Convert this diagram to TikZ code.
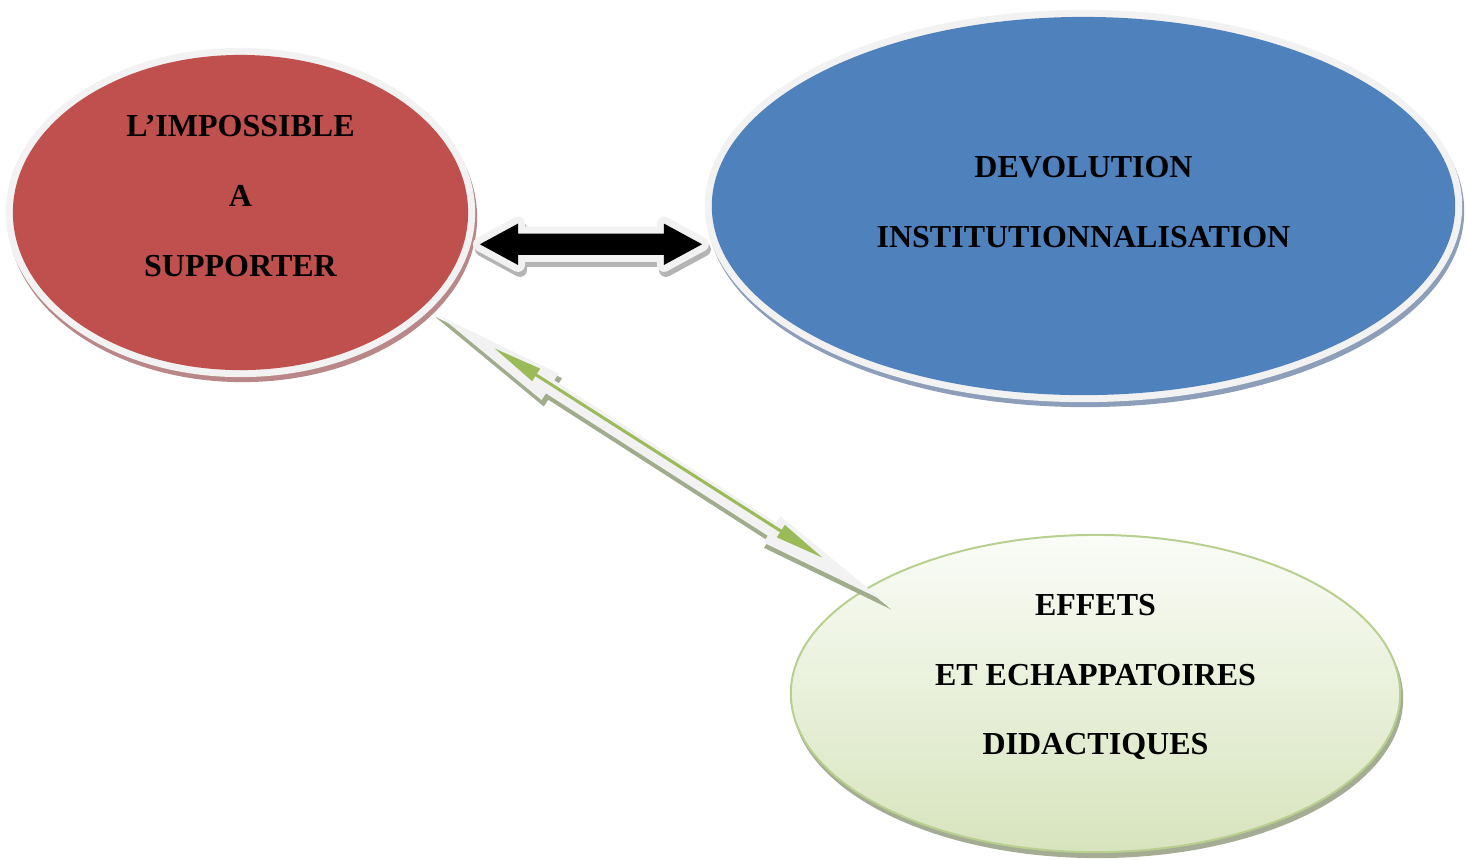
\documentclass[tikz,border=0pt]{standalone}
\usepackage{fontspec}
\setmainfont{Liberation Serif}
\usepackage{xcolor}
\usepackage{tikz}
\usetikzlibrary{shapes.geometric, shapes.arrows, arrows.meta, calc}

\definecolor{redfill}{RGB}{192,80,77}
\definecolor{bluefill}{RGB}{79,129,189}
\definecolor{greentop}{RGB}{250,252,247}
\definecolor{greenbot}{RGB}{215,228,189}
\definecolor{greenedge}{RGB}{184,208,143}
\definecolor{greenline}{RGB}{155,187,89}
\definecolor{ringgrey}{RGB}{242,242,242}
\definecolor{redshade}{RGB}{185,135,135}
\definecolor{blueshade}{RGB}{140,158,185}
\definecolor{greenshade}{RGB}{165,172,148}
\definecolor{greyshade}{RGB}{180,180,180}
\definecolor{oliveshade}{RGB}{160,172,140}

\begin{document}
\begin{tikzpicture}%
        [x={(0.01cm,0cm)},
        y={(0cm,-0.01cm)},
        halo/.style={preaction={draw=ringgrey, line width=0.14cm, line join=round}},
        rimshadow/.style={preaction={fill=#1, draw=#1, line width=0.14cm, line join=round,
            transform canvas={shift={(0.02cm,-0.05cm)}}}},
        flatshadow/.style={preaction={fill=#1, draw=#1, line width=0.02cm,
            transform canvas={shift={(0.02cm,-0.05cm)}}}},
        bubble/.style={ellipse, inner sep=0pt},
        bubbletext/.style={align=center, inner sep=0pt,
            font=\fontsize{9.1}{19.9}\selectfont\bfseries}]
    \useasboundingbox (0,0) rectangle (1466,859);
    %% Drawing the three bubbles
    \node[bubble, rimshadow=redshade, halo, fill=redfill,
        minimum width=4.55cm, minimum height=3.15cm] (red) at (240.5,212.5) {};
    \node[bubble, rimshadow=blueshade, halo, fill=bluefill,
        minimum width=7.43cm, minimum height=3.78cm] (blue) at (1083.5,206) {};
    \node[bubble, flatshadow=greenshade, draw=greenedge, line width=0.02cm,
        top color=greentop, bottom color=greenbot,
        minimum width=6.09cm, minimum height=3.17cm] (green) at (1095.5,693.5) {};
    %%
    %% Texts
    \node[bubbletext] (redtext) at ([yshift=0.165cm]red.center) {L’IMPOSSIBLE\\A\\SUPPORTER};
    \node[bubbletext] (bluetext) at ([yshift=0.04cm]blue.center) {DEVOLUTION\\INSTITUTIONNALISATION};
    \node[bubbletext] (greentext) at ([yshift=0.165cm]green.center) {EFFETS\\ET ECHAPPATOIRES\\DIDACTIQUES};
    %%
    %% Links between bubbles
    \node[double arrow, rimshadow=greyshade, halo, fill=black, inner xsep=0pt, inner ysep=0.1cm,
        minimum height=2.22cm,
        double arrow head extend=0.1cm, double arrow tip angle=57] (link) at ($(red.east)!0.5!(blue.west)+(1,35)$) {};
    \node[double arrow, flatshadow=oliveshade, fill=ringgrey, inner xsep=0pt, inner ysep=0.07cm, rotate=-32.7,
        minimum height=5.25cm,
        double arrow head extend=0.08cm, double arrow tip angle=13.7] (track) at (661,458) {};
    \coordinate (upend) at (494,348);
    \coordinate (downend) at (823,558);
    \draw[color=greenline, line width=0.03cm,
        {Triangle[length=5mm,width=1.4mm]}-{Triangle[length=5mm,width=1.4mm]}] (upend) -- (downend);
\end{tikzpicture}
\end{document}
